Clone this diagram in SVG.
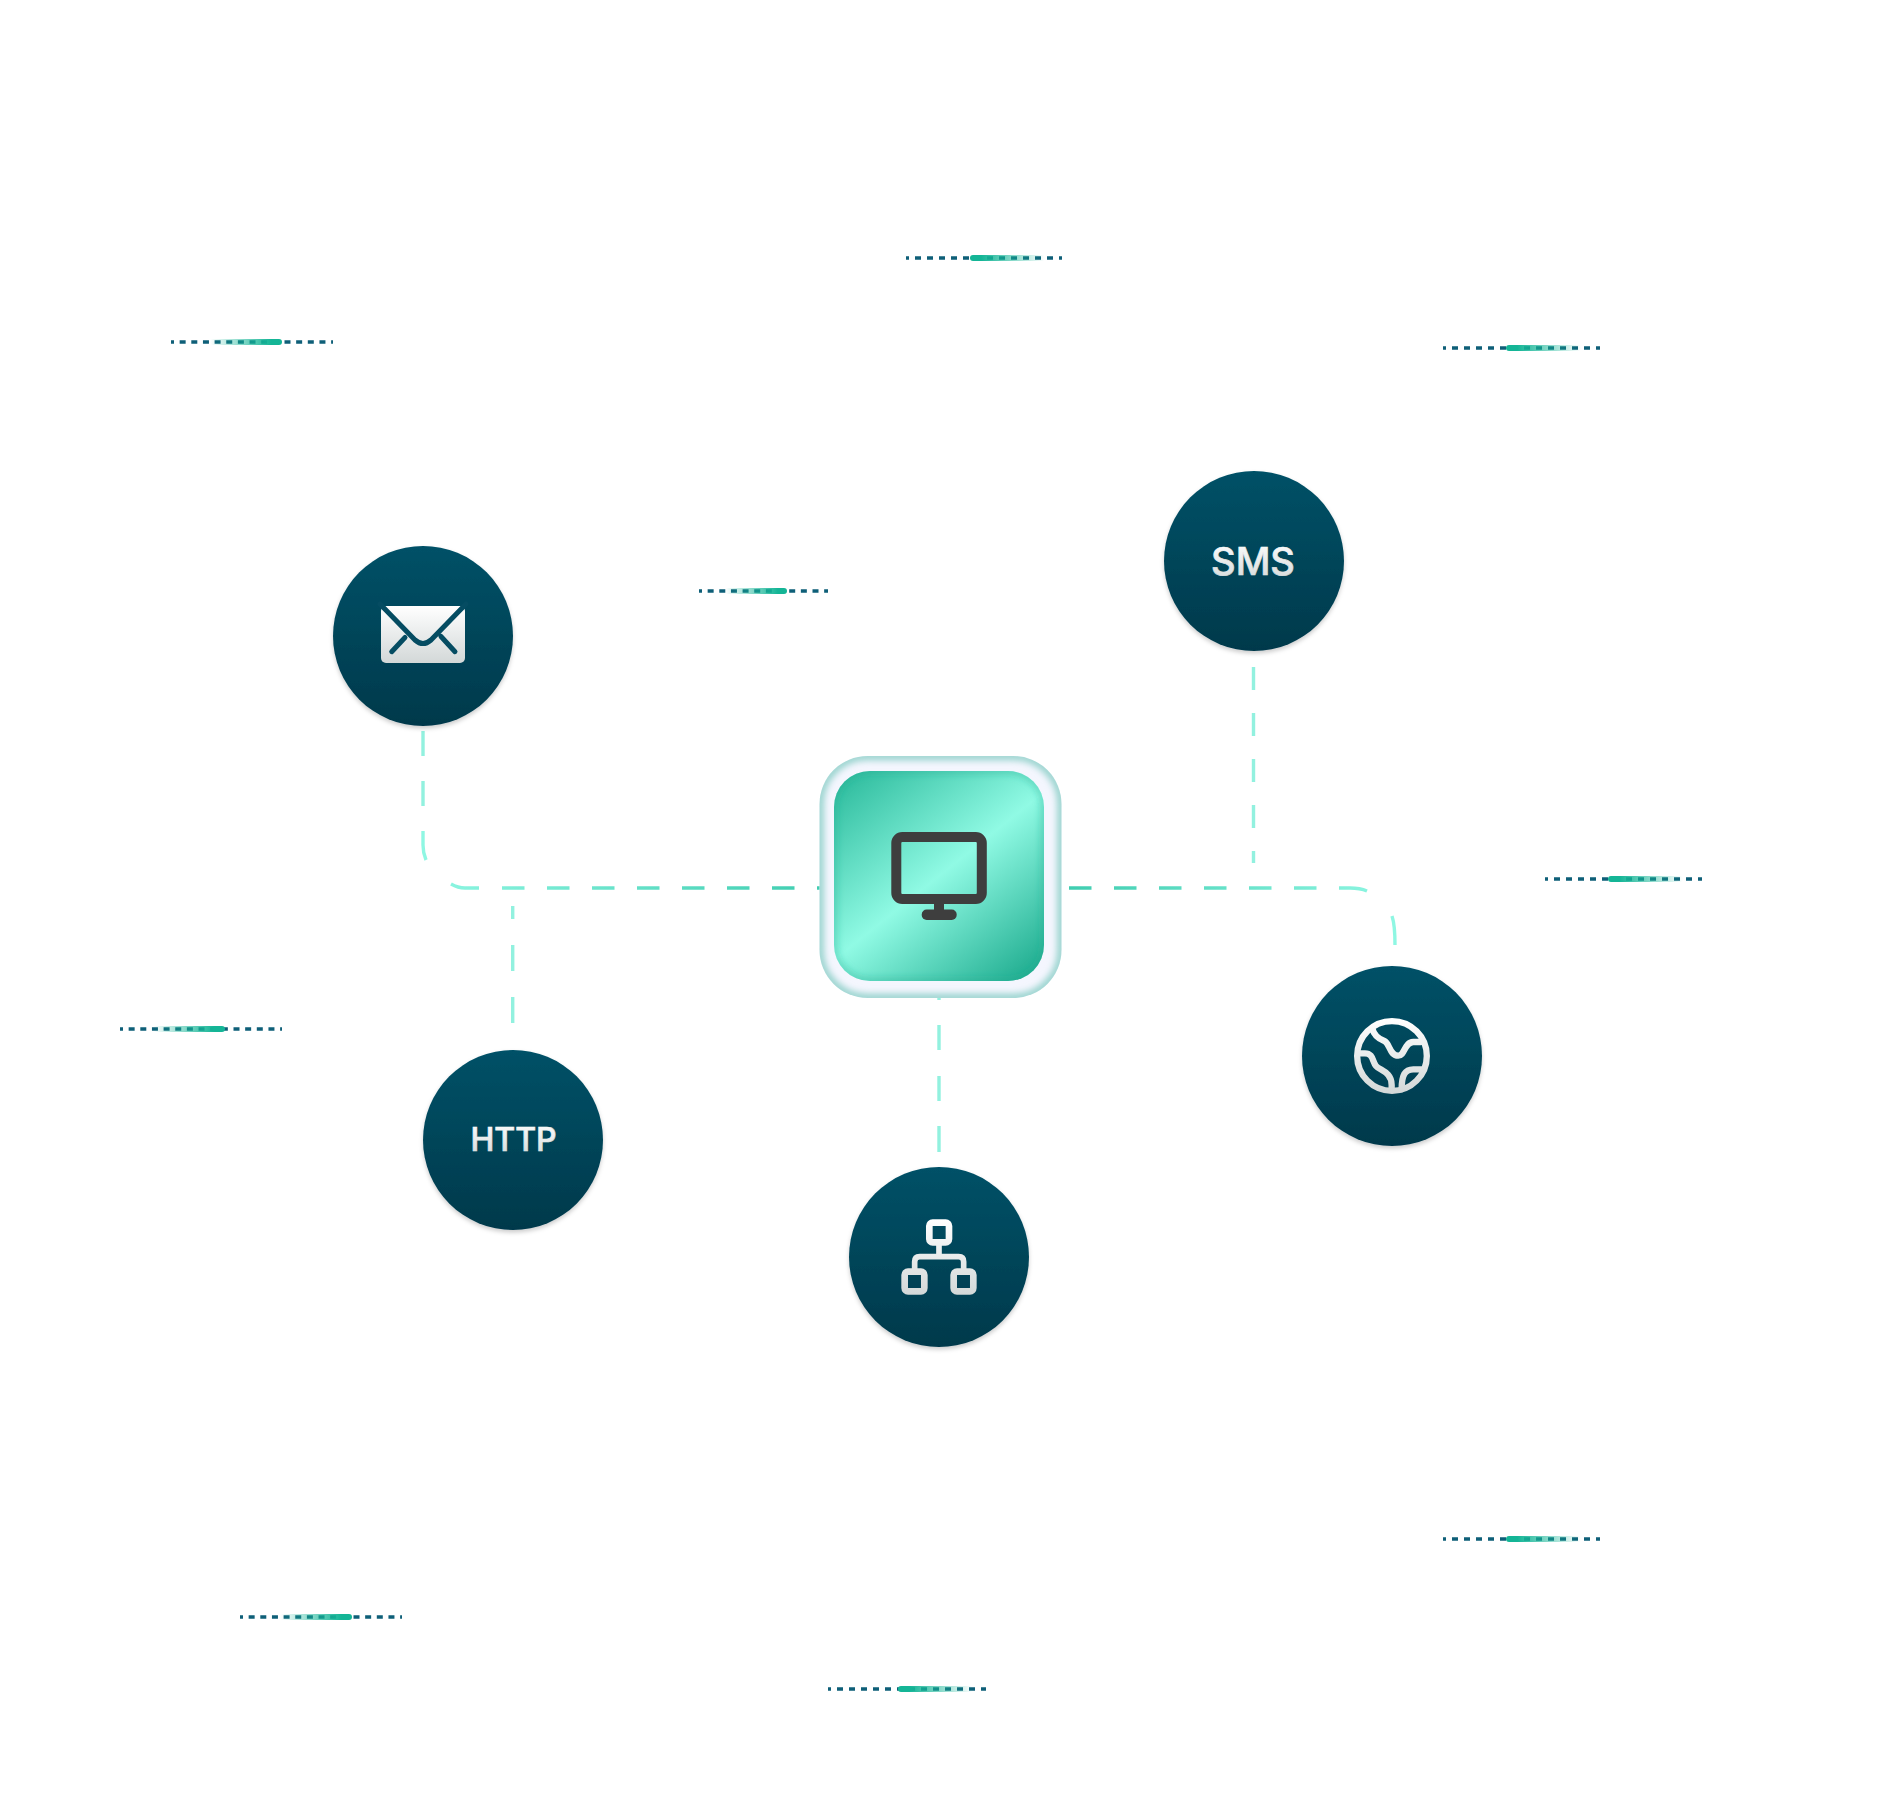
<svg xmlns="http://www.w3.org/2000/svg" width="1881" height="1800" viewBox="0 0 1881 1800">
<style>
.circle{fill:url(#navy);filter:url(#shadow)}
.lbl{font-family:Inter,"Liberation Sans",sans-serif;font-weight:500;fill:url(#txt);stroke:url(#txt);stroke-width:.7;text-anchor:middle}
.dash{stroke:#0e5f78;stroke-width:3.4;fill:none}
.wide{stroke-dasharray:6 6;stroke-dashoffset:3}
.narrow{stroke-dasharray:6 5.65;stroke-dashoffset:3}
.fadeR{fill:url(#fadeR)}
.fadeL{fill:url(#fadeL)}
.v{stroke:#92f1df;stroke-width:3.4;fill:none}
.ic{fill:none;stroke-linecap:round;stroke-linejoin:round}
</style>
<defs>
<linearGradient id="navy" x1="0" y1="0" x2="0" y2="1"><stop offset="0" stop-color="#055167"/><stop offset="1" stop-color="#03394b"/></linearGradient>
<linearGradient id="txt" x1="0" y1="0" x2="0" y2="1"><stop offset="0" stop-color="#ffffff"/><stop offset="1" stop-color="#d3d8d8"/></linearGradient>
<linearGradient id="mailG" gradientUnits="userSpaceOnUse" x1="0" y1="606" x2="0" y2="663"><stop offset="0" stop-color="#ffffff"/><stop offset="1" stop-color="#d3d8d8"/></linearGradient>
<linearGradient id="globeG" gradientUnits="userSpaceOnUse" x1="0" y1="175" x2="0" y2="400"><stop offset="0" stop-color="#ffffff"/><stop offset="1" stop-color="#d3d8d8"/></linearGradient>
<linearGradient id="netG" gradientUnits="userSpaceOnUse" x1="0" y1="178" x2="0" y2="404"><stop offset="0" stop-color="#ffffff"/><stop offset="1" stop-color="#d3d8d8"/></linearGradient>
<linearGradient id="tile" gradientUnits="userSpaceOnUse" x1="855" y1="771" x2="1023" y2="981"><stop offset="0" stop-color="#30bd9f"/><stop offset=".5" stop-color="#90fae4"/><stop offset="1" stop-color="#20ad90"/></linearGradient>
<linearGradient id="fadeR"><stop offset="0" stop-color="#14b596"/><stop offset=".15" stop-color="#14b596"/><stop offset="1" stop-color="#14b596" stop-opacity="0"/></linearGradient>
<linearGradient id="fadeL"><stop offset="0" stop-color="#14b596" stop-opacity="0"/><stop offset=".85" stop-color="#14b596"/><stop offset="1" stop-color="#14b596"/></linearGradient>
<linearGradient id="hL" gradientUnits="userSpaceOnUse" x1="423" y1="0" x2="819" y2="0"><stop offset="0" stop-color="#8ff7e3"/><stop offset="1" stop-color="#3fcdb0"/></linearGradient>
<linearGradient id="hR" gradientUnits="userSpaceOnUse" x1="1068" y1="0" x2="1395" y2="0"><stop offset="0" stop-color="#3fcdb0"/><stop offset="1" stop-color="#8ff7e3"/></linearGradient>
<filter id="shadow" x="-20%" y="-20%" width="140%" height="140%"><feDropShadow dx="0" dy="2.500" stdDeviation="2" flood-color="#000" flood-opacity=".2"/></filter>
<filter id="b3" x="-10%" y="-10%" width="120%" height="120%"><feGaussianBlur stdDeviation="3.500"/></filter>
<clipPath id="outerClip"><rect x="819.500" y="756" width="242" height="242" rx="48"/></clipPath>
<clipPath id="innerClip"><rect x="834" y="771" width="210" height="210" rx="36"/></clipPath>
</defs>
<rect width="1881" height="1800" fill="#ffffff"/>

<g id="connectors" stroke-width="3.400" fill="none">
<path stroke="url(#hL)" d="M423 831V845Q423 853 426 860M451 884Q458 888 465 888H479M502 888H524.500M547 888H569.500M592 888H614.500M637 888H659.500M682 888H704.500M727 888H749.500M772 888H794.500M817 888H820"/>
<path stroke="url(#hR)" d="M1069 888H1091.500M1114 888H1136.500M1159 888H1181.500M1204 888H1226.500M1249 888H1271.500M1294 888H1316.500M1339 888H1350Q1360 888 1367 891M1392 916Q1395 925 1395 945"/>
<path class="v" d="M423 731V756M423 781V806"/>
<path class="v" d="M1253.500 667V690M1253.500 713V736M1253.500 759V782M1253.500 805V828M1253.500 851V863"/>
<path class="v" d="M512.700 906V919M512.700 945V971M512.700 997V1023"/>
<path class="v" d="M939 998V1000M939 1025V1050M939 1076V1101M939 1126V1152"/>
</g>

<g id="decor">
<path class="dash wide" d="M906 258H1062"/><rect class="fadeR" x="970" y="255" width="75" height="6" rx="3"/>
<path class="dash narrow" d="M171 342H333"/><rect class="fadeL" x="210" y="339" width="72" height="6" rx="3"/>
<path class="dash wide" d="M1443 348H1600"/><rect class="fadeR" x="1506" y="345" width="75" height="6" rx="3"/>
<path class="dash narrow" d="M699 591H828"/><rect class="fadeL" x="725" y="588" width="62" height="6" rx="3"/>
<path class="dash wide" d="M1545 879H1702"/><rect class="fadeR" x="1608" y="876" width="75" height="6" rx="3"/>
<path class="dash narrow" d="M120 1029H282"/><rect class="fadeL" x="153" y="1026" width="72" height="6" rx="3"/>
<path class="dash wide" d="M1443 1539H1600"/><rect class="fadeR" x="1506" y="1536" width="75" height="6" rx="3"/>
<path class="dash narrow" d="M240 1617H402"/><rect class="fadeL" x="280" y="1614" width="72" height="6" rx="3"/>
<path class="dash wide" d="M828 1689H986"/><rect class="fadeR" x="898" y="1686" width="75" height="6" rx="3"/>
</g>

<g id="node-center">
<rect x="819.500" y="756" width="242" height="242" rx="48" fill="#f4f6fe"/>
<g clip-path="url(#outerClip)"><rect x="819.500" y="756" width="242" height="242" rx="48" fill="none" stroke="#8fd0c9" stroke-width="8" filter="url(#b3)"/></g>
<rect x="834" y="771" width="210" height="210" rx="36" fill="url(#tile)"/>
<g clip-path="url(#innerClip)"><rect x="834" y="771" width="210" height="210" rx="36" fill="none" stroke="#23ae92" stroke-width="6" stroke-opacity=".45" filter="url(#b3)"/></g>
<rect x="896.300" y="837" width="85.500" height="62" rx="6" fill="none" stroke="#3e3e3e" stroke-width="10"/>
<rect x="934" y="903" width="10" height="8" fill="#3e3e3e"/>
<rect x="921.700" y="909.500" width="35" height="10.500" rx="5" fill="#3e3e3e"/>
</g>

<g id="node-email">
<circle class="circle" cx="423" cy="636" r="90"/>
<rect x="381" y="606" width="84" height="57" rx="5" fill="url(#mailG)"/>
<path d="M380 604L415 640Q423 647 431 640L466 604M391.700 651.700L405 637.500M455 651.700L441 636.500" class="ic" stroke="#054c62" stroke-width="5"/>
</g>

<g id="node-sms">
<circle class="circle" cx="1254" cy="561" r="90"/>
<text class="lbl" x="1253" y="575" font-size="38">SMS</text>
</g>

<g id="node-globe">
<circle class="circle" cx="1392" cy="1056" r="90"/>
<g transform="translate(1290 960) scale(.3333)" class="ic" stroke="url(#globeG)" stroke-width="19">
<circle cx="306" cy="288" r="104.500"/>
<path d="M247 205C252 228 270 238 283 243C300 250 298 287 325 287C345 287 342 247 370 246H392"/>
<path d="M208 280H225C250 280 247 305 258 318C270 332 305 335 305 375V388"/>
<path d="M396 328H370C345 328 335 345 335 388"/>
</g>
</g>

<g id="node-network">
<circle class="circle" cx="939" cy="1257" r="90"/>
<g transform="translate(840 1160) scale(.3333)" class="ic" stroke="url(#netG)" stroke-width="20">
<rect x="268" y="188" width="59" height="59" rx="10"/>
<rect x="194" y="335" width="59" height="59" rx="10"/>
<rect x="341" y="335" width="59" height="59" rx="10"/>
<path stroke-width="17" d="M297 250V290M224 332V305Q224 290 239 290H356Q371 290 371 305V332"/>
</g>
</g>

<g id="node-http">
<circle class="circle" cx="513" cy="1140" r="90"/>
<text class="lbl" x="513.500" y="1151" font-size="32">HTTP</text>
</g>
</svg>
